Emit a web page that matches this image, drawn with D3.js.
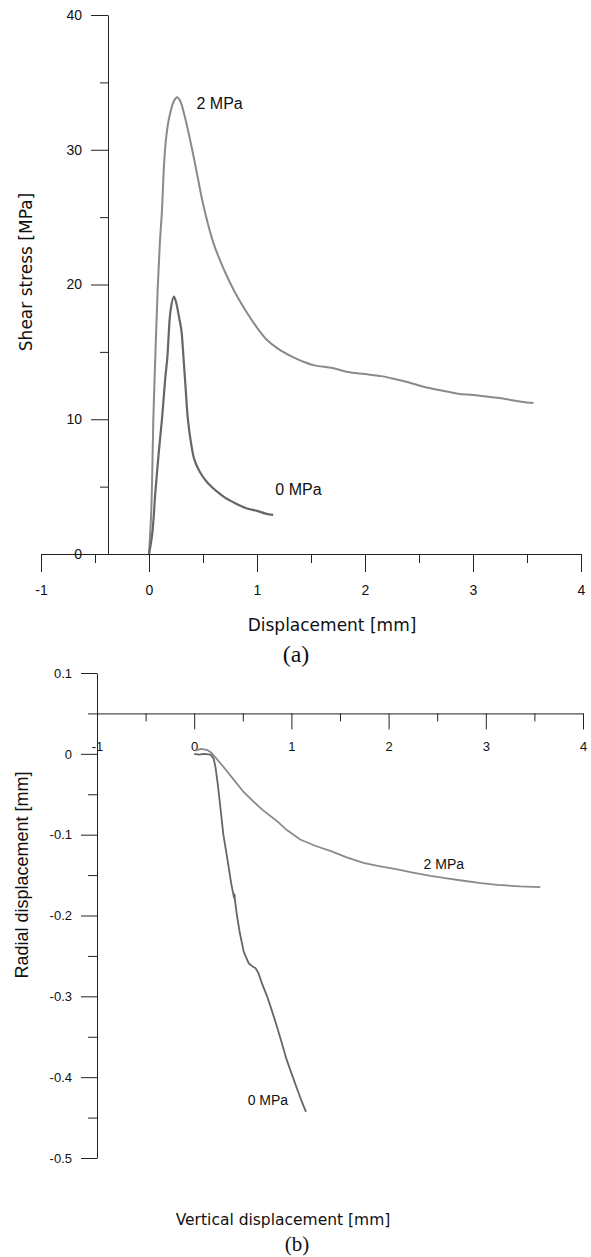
<!DOCTYPE html>
<html>
<head>
<meta charset="utf-8">
<script src="https://cdn.jsdelivr.net/npm/d3@7"></script>
<style>
  body { margin: 0; background: #fff; }
  svg { display: block; }
  .tick text { font-family: "Liberation Sans", Arial, sans-serif; fill: #111; }
  .domain, .tick line { stroke: #222; }
</style>
</head>
<body>
<div id="chart"></div>
<script>
// (a) shear stress vs displacement, [displacement mm, stress MPa]
const shear2MPa = [
  [0, 0], [0.02, 3], [0.03, 6], [0.04, 10], [0.06, 15], [0.08, 19.6], [0.1, 23],
  [0.12, 25.5], [0.14, 29], [0.16, 31], [0.19, 32.5], [0.23, 33.6], [0.26, 33.9],
  [0.29, 33.6], [0.33, 32.5], [0.4, 30], [0.45, 28], [0.5, 26], [0.6, 23], [0.7, 21],
  [0.79, 19.5], [0.9, 18], [1.0, 16.8], [1.09, 15.9], [1.2, 15.2], [1.31, 14.7],
  [1.42, 14.3], [1.53, 14.0], [1.7, 13.8], [1.84, 13.5], [2.0, 13.35], [2.15, 13.2],
  [2.24, 13.05], [2.4, 12.75], [2.55, 12.4], [2.7, 12.15], [2.86, 11.9], [3.0, 11.8],
  [3.1, 11.7], [3.3, 11.5], [3.45, 11.3], [3.56, 11.2]
];
const shear0MPa = [
  [0, 0], [0.03, 1.5], [0.06, 4.7], [0.09, 7.5], [0.12, 10], [0.15, 13], [0.17, 14.6],
  [0.2, 18.1], [0.23, 19.1], [0.25, 18.7], [0.28, 17.5], [0.3, 16.6], [0.32, 14.5],
  [0.34, 12.2], [0.36, 10], [0.39, 8.2], [0.42, 7.0], [0.47, 6.1], [0.54, 5.3],
  [0.62, 4.7], [0.7, 4.2], [0.79, 3.8], [0.9, 3.4], [1.0, 3.2], [1.08, 3.0], [1.15, 2.9]
];

// (b) radial vs vertical displacement, [vertical mm, radial mm]
const radial2MPa = [
  [0.01, 0.004], [0.07, 0.006], [0.13, 0.005], [0.17, 0.002], [0.2, -0.002],
  [0.3, -0.016], [0.4, -0.031], [0.5, -0.046], [0.6, -0.058], [0.7, -0.069],
  [0.85, -0.083], [0.95, -0.094], [1.09, -0.106], [1.25, -0.114], [1.4, -0.12],
  [1.57, -0.128], [1.74, -0.135], [1.9, -0.139], [2.09, -0.143], [2.25, -0.147],
  [2.43, -0.151], [2.6, -0.154], [2.77, -0.157], [2.95, -0.16], [3.12, -0.162],
  [3.35, -0.164], [3.56, -0.165]
];
const radial0MPa = [
  [0, 0], [0.05, -0.001], [0.1, 0], [0.17, -0.001], [0.2, -0.006], [0.22, -0.017],
  [0.245, -0.04], [0.27, -0.067], [0.3, -0.1], [0.34, -0.129], [0.38, -0.16],
  [0.41, -0.178], [0.415, -0.174], [0.42, -0.182], [0.44, -0.2], [0.47, -0.222],
  [0.51, -0.245], [0.56, -0.259], [0.6, -0.263], [0.63, -0.265], [0.66, -0.271],
  [0.7, -0.285], [0.75, -0.3], [0.8, -0.318], [0.85, -0.337], [0.9, -0.357],
  [0.95, -0.378], [1.0, -0.395], [1.06, -0.415], [1.1, -0.428], [1.15, -0.443]
];

const xTicks = [-1, 0, 1, 2, 3, 4];
const xMinor = [-0.5, 0.5, 1.5, 2.5, 3.5];
const shearTicks = [0, 10, 20, 30, 40];
const shearMinor = [5, 15, 25, 35];
const radialTicks = [0.1, 0, -0.1, -0.2, -0.3, -0.4, -0.5];
const radialMinor = [0.05, -0.05, -0.15, -0.25, -0.35, -0.45];

const width = 591;
const height = 1257;
const light = "#8a8a8a";
const dark = "#666";

// plain hyphen for negatives, like the original figure
const hyphen = f => d => f(d).replace("\u2212", "-");

const svg = d3.select("#chart")
  .append("svg")
  .attr("width", width)
  .attr("height", height);

const addLabel = (x, y, txt, size, family, anchor, rotate) => {
  const t = svg.append("text")
    .attr("font-family", family)
    .attr("font-size", size)
    .attr("fill", "#111")
    .attr("text-anchor", anchor || "middle")
    .text(txt);
  if (rotate) t.attr("transform", `translate(${x},${y}) rotate(-90)`);
  else t.attr("x", x).attr("y", y);
  return t;
};

// ---------- (a) ----------
{
  const x = d3.scaleLinear().domain([-1, 4]).range([41, 581]);
  const y = d3.scaleLinear().domain([0, 40]).range([554, 15]);
  const yAxisX = 108;

  svg.append("g")
    .attr("transform", `translate(0,${y(0)})`)
    .call(d3.axisBottom(x).tickValues(xTicks).tickSize(18).tickSizeOuter(0).tickPadding(13)
      .tickFormat(hyphen(d3.format("d"))))
    .call(g => g.selectAll(".tick text").attr("font-size", 14));
  svg.append("g")
    .attr("transform", `translate(0,${y(0)})`)
    .call(d3.axisBottom(x).tickValues(xMinor).tickSize(9).tickFormat(""))
    .call(g => g.select(".domain").remove());

  svg.append("g")
    .attr("transform", `translate(${yAxisX},0)`)
    .call(d3.axisLeft(y).tickValues(shearTicks).tickSize(17).tickSizeOuter(0).tickPadding(9))
    .call(g => g.selectAll(".tick text").attr("font-size", 14));
  svg.append("g")
    .attr("transform", `translate(${yAxisX},0)`)
    .call(d3.axisLeft(y).tickValues(shearMinor).tickSize(8).tickFormat(""))
    .call(g => g.select(".domain").remove());

  const line = d3.line().x(d => x(d[0])).y(d => y(d[1])).curve(d3.curveCatmullRom);

  svg.append("path").datum(shear2MPa)
    .attr("fill", "none").attr("stroke", light).attr("stroke-width", 2)
    .attr("stroke-linejoin", "round").attr("d", line);
  svg.append("path").datum(shear0MPa)
    .attr("fill", "none").attr("stroke", dark).attr("stroke-width", 2.2)
    .attr("stroke-linejoin", "round").attr("d", line);

  addLabel(x(0.44), y(33.0), "2 MPa", 16, "Liberation Sans, Arial, sans-serif", "start");
  addLabel(x(1.17), y(4.4), "0 MPa", 16, "Liberation Sans, Arial, sans-serif", "start");

  addLabel(332, 631, "Displacement [mm]", 17, "DejaVu Sans, Verdana, sans-serif");
  addLabel(32, 272, "Shear stress [MPa]", 17, "DejaVu Sans, Verdana, sans-serif", "middle", true);
  addLabel(296, 662, "(a)", 24, "Liberation Serif, Times New Roman, serif");
}

// ---------- (b) ----------
{
  const x = d3.scaleLinear().domain([-1, 4]).range([97, 583]);
  const y = d3.scaleLinear().domain([-0.5, 0.1]).range([1158, 673]);
  const xAxisY = y(0.05);

  svg.append("g")
    .attr("transform", `translate(0,${xAxisY})`)
    .call(d3.axisBottom(x).tickValues(xTicks).tickSize(16).tickSizeOuter(0).tickPadding(12)
      .tickFormat(hyphen(d3.format("d"))))
    .call(g => g.selectAll(".tick text").attr("font-size", 13));
  svg.append("g")
    .attr("transform", `translate(0,${xAxisY})`)
    .call(d3.axisBottom(x).tickValues(xMinor).tickSize(8).tickFormat(""))
    .call(g => g.select(".domain").remove());

  svg.append("g")
    .attr("transform", `translate(${x(-1)},0)`)
    .call(d3.axisLeft(y).tickValues(radialTicks).tickSize(16).tickSizeOuter(0).tickPadding(9)
      .tickFormat(hyphen(d => d === 0 ? "0" : d3.format(".1f")(d))))
    .call(g => g.selectAll(".tick text").attr("font-size", 13));
  svg.append("g")
    .attr("transform", `translate(${x(-1)},0)`)
    .call(d3.axisLeft(y).tickValues(radialMinor).tickSize(9).tickFormat(""))
    .call(g => g.select(".domain").remove());

  const line = d3.line().x(d => x(d[0])).y(d => y(d[1]));

  svg.append("path").datum(radial2MPa)
    .attr("fill", "none").attr("stroke", light).attr("stroke-width", 1.8)
    .attr("stroke-linejoin", "round").attr("d", line);
  svg.append("path").datum(radial0MPa)
    .attr("fill", "none").attr("stroke", dark).attr("stroke-width", 1.8)
    .attr("stroke-linejoin", "round").attr("d", line);

  addLabel(x(2.36), y(-0.142), "2 MPa", 14, "Liberation Sans, Arial, sans-serif", "start");
  addLabel(x(0.55), y(-0.435), "0 MPa", 14, "Liberation Sans, Arial, sans-serif", "start");

  addLabel(283, 1225, "Vertical displacement [mm]", 15.5, "DejaVu Sans, Verdana, sans-serif");
  addLabel(28, 875, "Radial displacement [mm]", 18, "Liberation Sans, Arial, sans-serif", "middle", true);
  addLabel(297, 1251, "(b)", 21, "Liberation Serif, Times New Roman, serif");
}
</script>
</body>
</html>
